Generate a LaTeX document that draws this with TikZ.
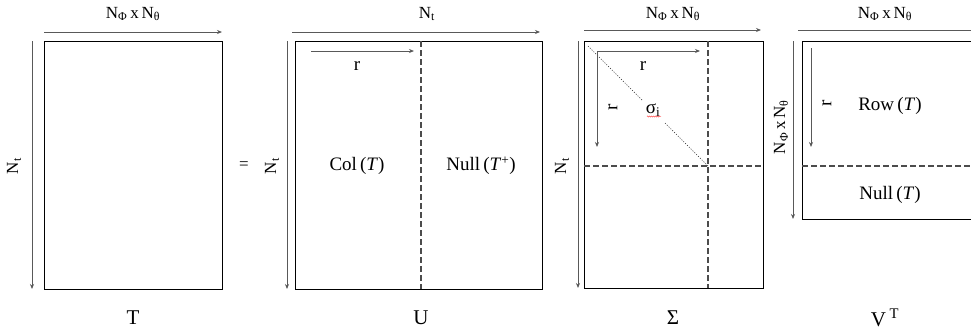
\documentclass[tikz,border=0pt]{standalone}
\usepackage{fontspec}
\setmainfont{Liberation Serif}
\usetikzlibrary{arrows.meta,decorations.pathmorphing}
\newcommand\NPT{N\textsubscript{Φ}\,x\,N\textsubscript{θ}}
\begin{document}
\begin{tikzpicture}[x=1pt,y=-1pt,
  mat/.style={draw=black,line width=1.3pt,inner sep=0pt,anchor=north west},
  dim/.style={draw=black!65,line width=0.8pt,-{Stealth[length=5pt,width=4pt]}},
  sep/.style={draw=black!70,line width=1.1pt,dash pattern=on 6pt off 3pt},
  diag/.style={draw=black!85,line width=0.7pt,dash pattern=on 1pt off 1.6pt},
  dimlab/.style={font=\fontsize{17}{17}\selectfont,inner sep=0pt},
  inlab/.style={font=\fontsize{19}{19}\selectfont,inner sep=0pt},
  botlab/.style={font=\fontsize{21}{21}\selectfont,inner sep=0pt}]
\useasboundingbox (0,0) rectangle (971,333);
\begin{scope}
\clip (0,0) rectangle (971,333);
% ---------- T
\node[mat,minimum width=178pt,minimum height=248pt] (T) at (44,41) {};
\coordinate (Ta) at (44,32); \coordinate (Tb) at (222,32);
\draw[dim] (Ta) -- (Tb);
\coordinate (Tc) at (32,41); \coordinate (Td) at (32,289);
\draw[dim] (Tc) -- (Td);
\node[dimlab] (Tcols) at (133,14) {\NPT};
\node[dimlab,rotate=90] (Trows) at (14,166) {N\textsubscript{t}};
\node[botlab] (Tname) at (133,318) {T};
\node[dimlab] (eq) at (244,166) {=};
% ---------- U
\node[mat,minimum width=247pt,minimum height=248pt] (U) at (295,41) {};
\coordinate (Ua) at (421,41); \coordinate (Ub) at (421,289);
\draw[sep] (Ua) -- (Ub);
\coordinate (Uc) at (292,32); \coordinate (Ud) at (540,32);
\draw[dim] (Uc) -- (Ud);
\coordinate (Ue) at (287,41); \coordinate (Uf) at (287,289);
\draw[dim] (Ue) -- (Uf);
\coordinate (Ug) at (311,51); \coordinate (Uh) at (414,51);
\draw[dim] (Ug) -- (Uh);
\node[inlab] (Ur) at (357,66) {r};
\node[dimlab] (Ucols) at (427,14) {N\textsubscript{t}};
\node[dimlab,rotate=90] (Urows) at (272,166) {N\textsubscript{t}};
\node[inlab] (Ucol) at (357,166) {Col\,(\textit{T})};
\node[inlab] (Unull) at (481,166) {Null\,(\textit{T}\textsuperscript{+})};
\node[botlab] (Uname) at (421,318) {U};
% ---------- Sigma
\node[mat,minimum width=179pt,minimum height=247pt] (S) at (584,41) {};
\coordinate (Sa) at (708,41); \coordinate (Sb) at (708,288);
\draw[sep] (Sa) -- (Sb);
\coordinate (Sc) at (584,166); \coordinate (Sd) at (763,166);
\draw[sep] (Sc) -- (Sd);
\coordinate (Se) at (588,46); \coordinate (Sf) at (708,166);
\coordinate (Sgap1) at (642,100); \coordinate (Sgap2) at (665,123);
\draw[diag] (Se) -- (Sgap1);
\draw[diag] (Sgap2) -- (Sf);
\node[inlab] (Ssig) at (653,110) {σ\textsubscript{i}};
\coordinate (Sq1) at (647,116.5); \coordinate (Sq2) at (661,116.5);
\draw[red!80,line width=0.4pt,decorate,decoration={snake,amplitude=0.6pt,segment length=2pt}] (Sq1) -- (Sq2);
\coordinate (Sg) at (584,30); \coordinate (Sh) at (761,30);
\draw[dim] (Sg) -- (Sh);
\coordinate (Si) at (578,41); \coordinate (Sj) at (578,288);
\draw[dim] (Si) -- (Sj);
\coordinate (Sk) at (597,51); \coordinate (Sl) at (700,51); \coordinate (Sm) at (597,147);
\draw[dim] (Sk) -- (Sl);
\draw[dim] (Sk) -- (Sm);
\node[inlab] (Sr1) at (643,66) {r};
\node[inlab,rotate=90] (Sr2) at (613,107) {r};
\node[dimlab] (Scols) at (673,14) {\NPT};
\node[dimlab,rotate=90] (Srows) at (562,166) {N\textsubscript{t}};
\node[botlab] (Sname) at (673,318) {Σ};
% ---------- V^T
\node[mat,minimum width=200pt,minimum height=178pt] (V) at (802,41) {};
\coordinate (Va) at (802,166); \coordinate (Vb) at (1002,166);
\draw[sep] (Va) -- (Vb);
\coordinate (Vc) at (798,30); \coordinate (Vd) at (990,30);
\draw[dim] (Vc) -- (Vd);
\coordinate (Ve) at (793,41); \coordinate (Vf) at (793,219);
\draw[dim] (Ve) -- (Vf);
\coordinate (Vg) at (811,48); \coordinate (Vh) at (811,147);
\draw[dim] (Vg) -- (Vh);
\node[inlab,rotate=90] (Vr) at (827,103) {r};
\node[dimlab] (Vcols) at (885,14) {\NPT};
\node[dimlab,rotate=90] (Vrows) at (781,127) {\NPT};
\node[inlab] (Vrow) at (890,106) {Row\,(\textit{T})};
\node[inlab] (Vnull) at (890,195) {Null\,(\textit{T})};
\node[botlab] (Vname) at (885,318) {V\,\textsuperscript{T}};
\end{scope}
\end{tikzpicture}
\end{document}
